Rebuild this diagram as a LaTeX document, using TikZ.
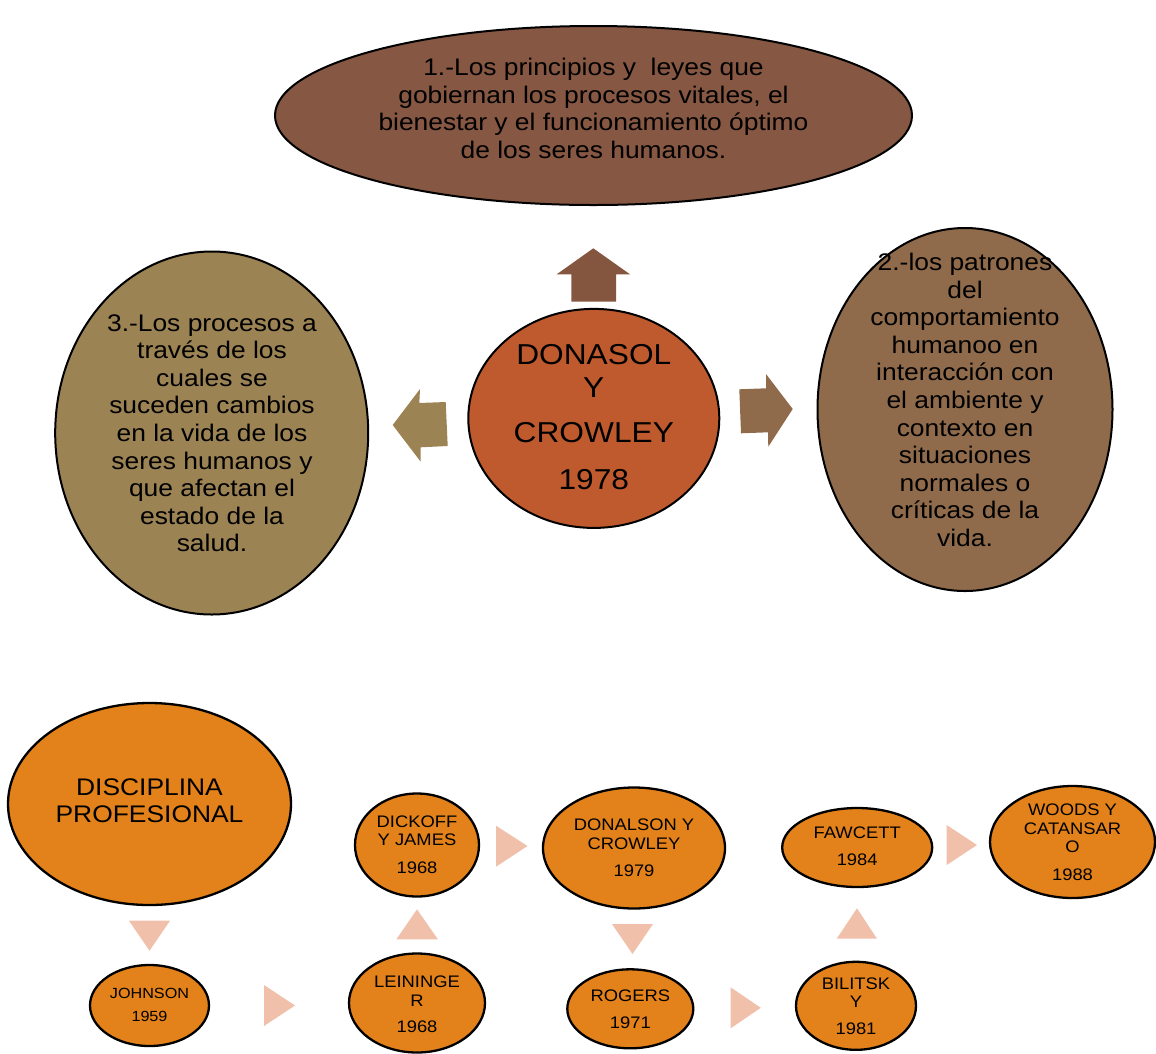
\documentclass[tikz,border=0pt]{standalone}
\usepackage{fontspec}
\setmainfont{Liberation Sans}[FakeStretch=1.1]
\usetikzlibrary{shapes.geometric}
\definecolor{cTop}{HTML}{865742}
\definecolor{cUp}{HTML}{85563F}
\definecolor{cMid}{HTML}{BE5A2E}
\definecolor{cLeft}{HTML}{9C8354}
\definecolor{cRight}{HTML}{8F6B4B}
\definecolor{cOr}{HTML}{E3821A}
\definecolor{cTri}{HTML}{F0C0AA}
\tikzset{
  ell/.style={ellipse, draw=black, line width=2pt, inner sep=0pt, outer sep=0pt},
  smallell/.style={ell, fill=cOr, line width=2.3pt},
  txt/.style={align=center, inner sep=0pt, text=black},
  bigtxt/.style={txt, font=\fontsize{24}{27.6}\selectfont},
  smtxt/.style={txt, font=\fontsize{16.7}{18.3}\selectfont},
  tri/.style={fill=cTri},
}
\begin{document}
\begin{tikzpicture}[x=1pt,y=-1pt]
\useasboundingbox (0,0) rectangle (1156,1053);
% top part
\node[ell, fill=cTop, minimum width=637, minimum height=179] (top) at (593.5,115.5) {};
\node[bigtxt] (topT) at (593.5,108.5) {1.-Los principios y~ leyes que\\gobiernan los procesos vitales, el\\bienestar y el funcionamiento óptimo\\de los seres humanos.};
\node[ell, fill=cMid, minimum width=251, minimum height=219] (mid) at (593.8,418.4) {};
\node[txt, font=\fontsize{28.8}{33}\selectfont] (midT) at (593.8,417.5) {DONASOL\\Y\\[12pt]CROWLEY\\[14pt]1978};
\node[ell, fill=cLeft, minimum width=313, minimum height=363] (left) at (211.7,433) {};
\node[bigtxt] (leftT) at (212,433.3) {3.-Los procesos a\\través de los\\cuales se\\suceden cambios\\en la vida de los\\seres humanos y\\que afectan el\\estado de la\\salud.};
\node[ell, fill=cRight, minimum width=295, minimum height=363] (right) at (965,409.5) {};
\node[bigtxt] (rightT) at (965,400) {2.-los patrones\\del\\comportamiento\\humanoo en\\interacción con\\el ambiente y\\contexto en\\situaciones\\normales o\\críticas de la\\vida.};
% block arrows
\fill[cUp] (571.3,301.7) -- (571.3,274.3) -- (556.7,274.3) -- (593.3,248.3) -- (630,274.3) -- (616,274.3) -- (616,301.7) -- cycle;
\fill[cLeft] (447.7,446) -- (420.7,447.3) -- (420.7,461.7) -- (392.7,425) -- (420,389) -- (419.3,403) -- (445.7,402) -- cycle;
\fill[cRight] (739.3,389.3) -- (766,388.3) -- (766,374) -- (792.7,409) -- (768.3,446.7) -- (768,432.3) -- (741,433.3) -- cycle;
% bottom part
\node[smallell, minimum width=283, minimum height=202] (disc) at (149.5,804) {};
\node[bigtxt, font=\fontsize{24}{27}\selectfont] (discT) at (149.5,800.5) {DISCIPLINA\\PROFESIONAL};
\node[smallell, minimum width=119, minimum height=81] (john) at (149.5,1005.5) {};
\node[txt, font=\fontsize{14.7}{23.3}\selectfont] (johnT) at (149.5,1005) {JOHNSON\\1959};
\node[smallell, minimum width=136, minimum height=99] (lein) at (417,1003) {};
\node[smtxt] (leinT) at (417,1004.5) {LEININGE\\R\\[8pt]1968};
\node[smallell, minimum width=124, minimum height=103] (dick) at (417,845) {};
\node[smtxt] (dickT) at (417,844.5) {DICKOFF\\Y JAMES\\[9pt]1968};
\node[smallell, minimum width=182, minimum height=121] (donal) at (634,848) {};
\node[smtxt] (donalT) at (634,848) {DONALSON Y\\CROWLEY\\[9pt]1979};
\node[smallell, minimum width=126, minimum height=79] (rog) at (630.3,1008.8) {};
\node[txt, font=\fontsize{16.7}{26.7}\selectfont] (rogT) at (630.3,1009.3) {ROGERS\\1971};
\node[smallell, minimum width=120, minimum height=88] (bil) at (856,1005.8) {};
\node[smtxt] (bilT) at (856,1005.8) {BILITSK\\Y\\[8.4pt]1981};
\node[smallell, minimum width=150, minimum height=79] (faw) at (857.2,847.5) {};
\node[txt, font=\fontsize{16.7}{27.3}\selectfont] (fawT) at (857.2,846.3) {FAWCETT\\1984};
\node[smallell, minimum width=165, minimum height=112] (woods) at (1072.5,842) {};
\node[smtxt] (woodsT) at (1072.5,842.5) {WOODS Y\\CATANSAR\\O\\[10pt]1988};
% triangles
\fill[tri] (129,920.7) -- (170,920.7) -- (149.5,950.7) -- cycle;
\fill[tri] (264,985) -- (264,1026) -- (295,1005.5) -- cycle;
\fill[tri] (396.4,939.3) -- (437.9,939.3) -- (417,909.3) -- cycle;
\fill[tri] (496,825.7) -- (496,866.7) -- (527.5,846) -- cycle;
\fill[tri] (612,924) -- (653,924) -- (632.5,954) -- cycle;
\fill[tri] (730.6,987.3) -- (730.6,1028.3) -- (760.8,1007.8) -- cycle;
\fill[tri] (836.7,938.7) -- (877,938.7) -- (857,908.3) -- cycle;
\fill[tri] (946.7,825) -- (946.7,865) -- (977,845) -- cycle;
\end{tikzpicture}
\end{document}
